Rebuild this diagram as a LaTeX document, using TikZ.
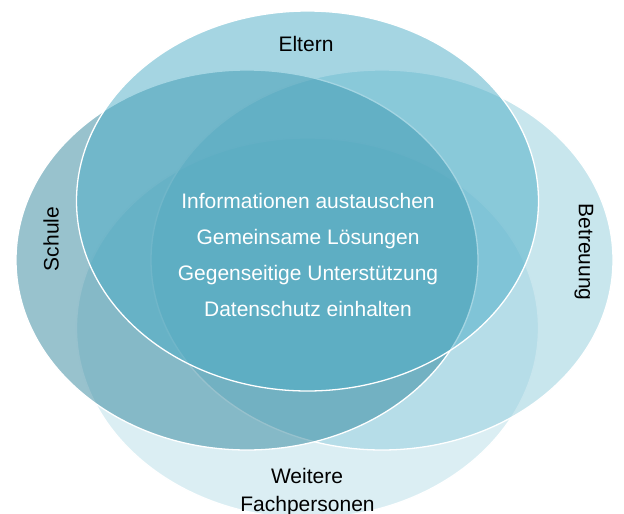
\documentclass[tikz,border=0pt]{standalone}
\usepackage{fontspec}
\setmainfont{Liberation Sans}
\usepackage{tikz}
\tikzset{
  font={\fontsize{21pt}{25}\selectfont}}
\definecolor{elterncol}{HTML}{4BACC6}
\definecolor{schulecol}{HTML}{31859C}
\definecolor{betreuungcol}{HTML}{92CDDC}
\definecolor{fachcol}{HTML}{B7DEE8}

\begin{document}
\begin{tikzpicture}[x=1pt,y=1pt]
\tikzstyle{every node}+=[inner sep=0pt]
\tikzstyle{venn}=[draw=white, line width=1.3pt, fill opacity=0.5]
\useasboundingbox (0,0) rectangle (624,-514);
\clip (0,0) rectangle (624,-514);
\draw [venn, fill=fachcol] (307.5,-328) ellipse [x radius=231pt, y radius=190pt];
\draw [venn, fill=betreuungcol] (382,-260) ellipse [x radius=231pt, y radius=190pt];
\draw [venn, fill=schulecol] (247,-260) ellipse [x radius=231pt, y radius=190pt];
\draw [venn, fill=elterncol] (307.5,-201) ellipse [x radius=231pt, y radius=190pt];
\node (eltern) at (306,-51) [anchor=base] {Eltern};
\node (schule) at (51,-239) [rotate=90] {Schule};
\node (betreuung) at (584,-252) [rotate=-90] {Betreuung};
\node (weitere) at (307,-483) [anchor=base] {Weitere};
\node (fach) at (307.5,-511) [anchor=base] {Fachpersonen};
\node (info) at (308,-208) [anchor=base, white] {Informationen austauschen};
\node (loesung) at (308,-244) [anchor=base, white] {Gemeinsame Lösungen};
\node (hilfe) at (308,-280) [anchor=base, white] {Gegenseitige Unterstützung};
\node (daten) at (308,-316) [anchor=base, white] {Datenschutz einhalten};
\end{tikzpicture}
\end{document}
